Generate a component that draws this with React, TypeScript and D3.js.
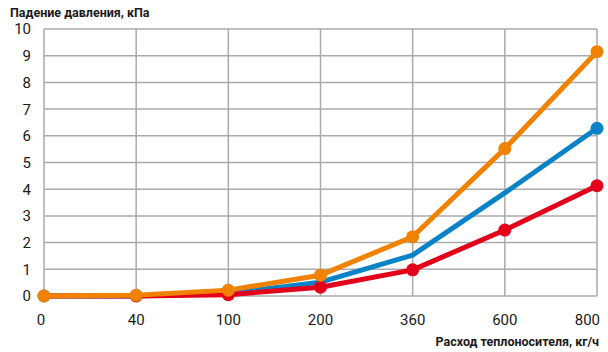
import React from "react";
import * as d3 from "d3";

const categories = ["0", "40", "100", "200", "360", "600", "800"];
const yTicks = [0, 1, 2, 3, 4, 5, 6, 7, 8, 9, 10];
const blueValues = [0, 0.0, 0.1, 0.52, 1.53, 3.86, 6.28];
const redValues = [0, 0.0, 0.05, 0.33, 0.98, 2.47, 4.13];
const orangeValues = [0, 0.03, 0.22, 0.78, 2.22, 5.52, 9.15];
const blueMarkers = [0, 6];
const redMarkers = [1, 2, 3, 4, 5, 6];
const orangeMarkers = [0, 1, 2, 3, 4, 5, 6];
const yTitle = "Падение давления, кПа";
const xTitle = "Расход теплоносителя, кг/ч";

const W = 608, H = 352;
const left = 44, right = 597, top = 29, bottom = 296;

export default function App() {
  const x = d3.scalePoint<string>().domain(categories).range([left, right]);
  const y = d3.scaleLinear().domain([0, 10]).range([bottom, top]);
  const line = d3.line<number>().x((_, i) => x(categories[i])!).y((d) => y(d));
  const series = [
    { vals: blueValues, color: "#0A82C8", markers: blueMarkers },
    { vals: redValues, color: "#E2001A", markers: redMarkers },
    { vals: orangeValues, color: "#F08200", markers: orangeMarkers },
  ];
  const font = "Roboto, 'DejaVu Sans', sans-serif";
  const last = categories.length - 1;
  return (
    <svg width={W} height={H} style={{ position: "absolute", left: 0, top: 0 }} fontFamily={font}>
      <rect width={W} height={H} fill="#fff" />
      {yTicks.map((t) => (
        <line key={"gy" + t} x1={left} x2={right} y1={y(t)} y2={y(t)} stroke="#AAAAAA" strokeWidth={1.5} />
      ))}
      {categories.map((c) => (
        <line key={"gx" + c} x1={x(c)} x2={x(c)} y1={top} y2={bottom} stroke="#AAAAAA" strokeWidth={1.5} />
      ))}
      {yTicks.map((t) => (
        <text key={"ty" + t} x={31} y={y(t)} dy="0.36em" textAnchor="end" fontSize={15} fill="#1a1a1a">
          {t}
        </text>
      ))}
      {categories.map((c, i) => (
        <text
          key={"tx" + c}
          x={i === last ? 600 : i === 0 ? x(c)! - 3 : x(c)}
          y={325}
          textAnchor={i === last ? "end" : "middle"}
          fontSize={15}
          fill="#1a1a1a"
        >
          {c}
        </text>
      ))}
      <text x={10} y={17} fontSize={12.5} fontWeight="bold" fill="#1a1a1a">{yTitle}</text>
      <text x={599} y={346} textAnchor="end" fontSize={12.5} fontWeight="bold" fill="#1a1a1a">{xTitle}</text>
      {series.map((s, si) => (
        <g key={"s" + si}>
          <path d={line(s.vals)!} fill="none" stroke={s.color} strokeWidth={5} strokeLinejoin="round" />
          {s.markers.map((i) => (
            <circle key={i} cx={x(categories[i])} cy={y(s.vals[i])} r={6.5} fill={s.color} />
          ))}
        </g>
      ))}
    </svg>
  );
}
